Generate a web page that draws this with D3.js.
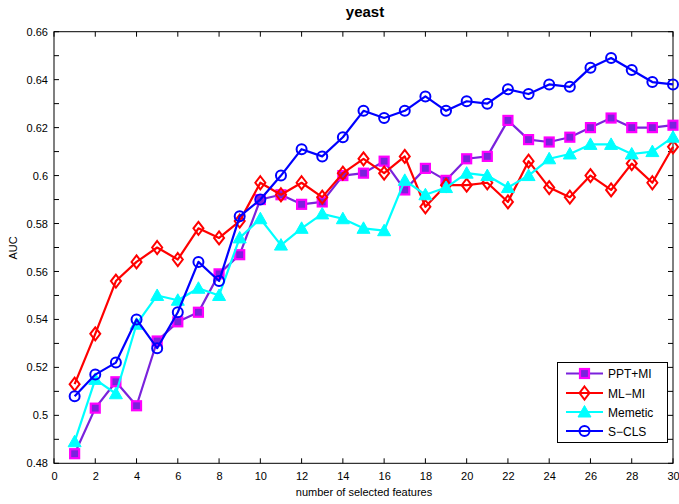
<!DOCTYPE html>
<html><head><meta charset="utf-8">
<script src="https://cdn.jsdelivr.net/npm/d3@7"></script>
<style>body{margin:0;background:#fff}svg{font-family:"Liberation Sans",Arial,sans-serif}</style>
</head><body><svg id="c" width="679" height="504"></svg>
<script>
const features = d3.range(1, 31);
const pptmi = [0.484,0.503,0.514,0.504,0.531,0.539,0.543,0.559,0.567,0.590,0.592,0.588,0.589,0.600,0.601,0.606,0.594,0.603,0.598,0.607,0.608,0.623,0.615,0.614,0.616,0.620,0.624,0.620,0.620,0.621];
const mlmi = [0.513,0.534,0.556,0.564,0.570,0.565,0.578,0.574,0.581,0.597,0.592,0.597,0.591,0.601,0.607,0.601,0.608,0.587,0.596,0.596,0.597,0.589,0.606,0.595,0.591,0.600,0.594,0.605,0.597,0.612];
const memetic = [0.489,0.515,0.509,0.538,0.550,0.548,0.553,0.550,0.574,0.582,0.571,0.578,0.584,0.582,0.578,0.577,0.598,0.592,0.595,0.601,0.600,0.595,0.600,0.607,0.609,0.613,0.613,0.609,0.610,0.616];
const scls = [0.508,0.517,0.522,0.540,0.528,0.543,0.564,0.556,0.583,0.590,0.600,0.611,0.608,0.616,0.627,0.624,0.627,0.633,0.627,0.631,0.630,0.636,0.634,0.638,0.637,0.645,0.649,0.644,0.639,0.638];
const xTicks = d3.range(0, 31, 2);
const yTicks = [0.48,0.50,0.52,0.54,0.56,0.58,0.60,0.62,0.64,0.66];
const yMinor = d3.range(48, 67).map(d => d / 100);
const seriesNames = ["PPT+MI","ML\u2212MI","Memetic","S\u2212CLS"];

const svg = d3.select("#c");
const L = 54, R = 673, T = 31.7, B = 463.3;
const x = d3.scaleLinear().domain([0, 30]).range([L, R]);
const y = d3.scaleLinear().domain([0.48, 0.66]).range([B, T]);

const series = [
  {name: seriesNames[0], data: pptmi, line: "#7a22dc", marker: "square"},
  {name: seriesNames[1], data: mlmi, line: "#ff0000", marker: "diamond"},
  {name: seriesNames[2], data: memetic, line: "#00ffff", marker: "triangle"},
  {name: seriesNames[3], data: scls, line: "#0000ff", marker: "circle"}
];

function drawMarker(g, s, cx, cy) {
  if (s.marker === "square") {
    g.append("rect").attr("x", cx - 4.5).attr("y", cy - 4.5).attr("width", 9).attr("height", 9)
      .attr("fill", "#7a22dc").attr("stroke", "#ff00ff").attr("stroke-width", 2.2);
  } else if (s.marker === "diamond") {
    g.append("path").attr("d", `M${cx},${cy-6.5}L${cx+5},${cy}L${cx},${cy+6.5}L${cx-5},${cy}Z`)
      .attr("fill", "none").attr("stroke", "#ff0000").attr("stroke-width", 2);
  } else if (s.marker === "triangle") {
    g.append("path").attr("d", `M${cx},${cy-6.5}L${cx+6.5},${cy+5}L${cx-6.5},${cy+5}Z`)
      .attr("fill", "#00ffff").attr("stroke", "#00ffff").attr("stroke-width", 1);
  } else {
    g.append("circle").attr("cx", cx).attr("cy", cy).attr("r", 5)
      .attr("fill", "none").attr("stroke", "#0000ff").attr("stroke-width", 2);
  }
}

svg.append("rect").attr("x", L).attr("y", T).attr("width", R - L).attr("height", B - T)
  .attr("fill", "none").attr("stroke", "#000").attr("stroke-width", 1);

const gx = svg.append("g").attr("transform", `translate(0,${B})`)
  .call(d3.axisBottom(x).tickValues(xTicks).tickSize(0).tickPadding(9).tickFormat(d3.format("d")));
gx.select(".domain").remove();
gx.selectAll("text").attr("font-size", 11).attr("fill", "#000");
xTicks.forEach(t => {
  svg.append("line").attr("x1", x(t)).attr("x2", x(t)).attr("y1", B).attr("y2", B - 5).attr("stroke", "#000");
  svg.append("line").attr("x1", x(t)).attr("x2", x(t)).attr("y1", T).attr("y2", T + 5).attr("stroke", "#000");
});
const fmt = d => String(+d.toFixed(2));
const gy = svg.append("g").attr("transform", `translate(${L},0)`)
  .call(d3.axisLeft(y).tickValues(yTicks).tickSize(0).tickPadding(6).tickFormat(fmt));
gy.select(".domain").remove();
gy.selectAll("text").attr("font-size", 11).attr("fill", "#000");
yMinor.forEach(t => {
  svg.append("line").attr("x1", L).attr("x2", L + 5).attr("y1", y(t)).attr("y2", y(t)).attr("stroke", "#000");
  svg.append("line").attr("x1", R).attr("x2", R - 5).attr("y1", y(t)).attr("y2", y(t)).attr("stroke", "#000");
});

const lineGen = d3.line().x((d, i) => x(features[i])).y(d => y(d));
series.forEach(s => {
  svg.append("path").attr("d", lineGen(s.data)).attr("fill", "none")
    .attr("stroke", s.line).attr("stroke-width", 2.2).attr("stroke-linejoin", "round");
  const g = svg.append("g");
  s.data.forEach((v, i) => drawMarker(g, s, x(features[i]), y(v)));
});

svg.append("text").attr("x", 365).attr("y", 17).attr("text-anchor", "middle")
  .attr("font-size", 15).attr("font-weight", "bold").text("yeast");
svg.append("text").attr("x", 364).attr("y", 496).attr("text-anchor", "middle")
  .attr("font-size", 11).text("number of selected features");
svg.append("text").attr("transform", "translate(17,248) rotate(-90)").attr("text-anchor", "middle")
  .attr("font-size", 11).text("AUC");

const lg = svg.append("g");
lg.append("rect").attr("x", 557.5).attr("y", 362.5).attr("width", 110).attr("height", 80)
  .attr("fill", "#fff").attr("stroke", "#000").attr("stroke-width", 1);
const ly = [373.5, 393, 412, 431];
series.forEach((s, i) => {
  lg.append("line").attr("x1", 566).attr("x2", 603).attr("y1", ly[i]).attr("y2", ly[i])
    .attr("stroke", s.line).attr("stroke-width", 2.2);
  drawMarker(lg, s, 584.5, ly[i]);
  lg.append("text").attr("x", 608).attr("y", ly[i] + 4.5).attr("font-size", 12).text(s.name);
});
</script></body></html>
